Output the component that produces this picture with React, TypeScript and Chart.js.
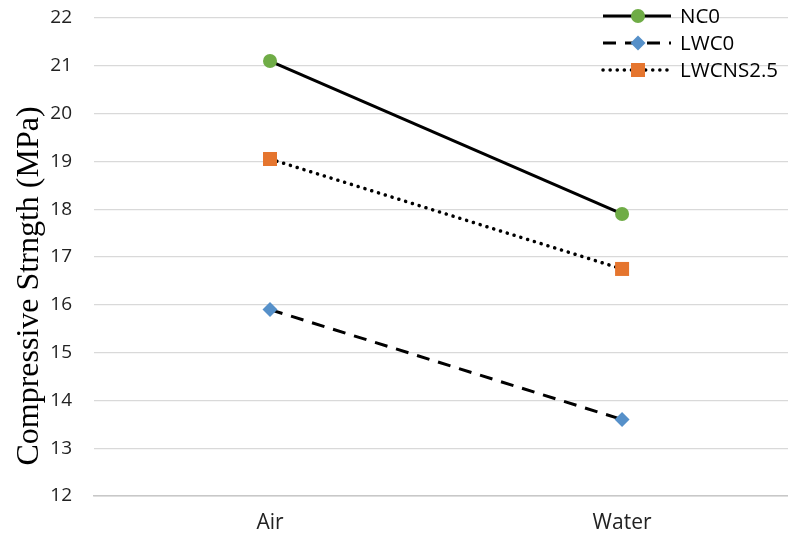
import React, { useEffect, useRef } from "react";
import { Chart, registerables } from "chart.js";

Chart.register(...registerables);

const categories = ["Air", "Water"];
const nc0 = [21.1, 17.9];
const lwc0 = [15.9, 13.6];
const lwcns25 = [19.05, 16.75];
const yTicks = [12, 13, 14, 15, 16, 17, 18, 19, 20, 21, 22];
const yTitle = "Compressive Strngth (MPa)";

const GREEN = "#6FAC46";
const BLUE = "#5690C9";
const ORANGE = "#E5752E";

type LegendRow = {
  label: string;
  color: string;
  dash: number[];
  cap: CanvasLineCap;
  width: number;
  marker: "circle" | "diamond" | "square";
};

const legendRows: LegendRow[] = [
  { label: "NC0", color: GREEN, dash: [], cap: "butt", width: 3, marker: "circle" },
  { label: "LWC0", color: BLUE, dash: [13, 9], cap: "butt", width: 3, marker: "diamond" },
  { label: "LWCNS2.5", color: ORANGE, dash: [0.1, 7], cap: "round", width: 3.5, marker: "square" },
];

function drawMarker(ctx: CanvasRenderingContext2D, kind: string, x: number, y: number, color: string) {
  ctx.save();
  ctx.fillStyle = color;
  ctx.beginPath();
  if (kind === "circle") {
    ctx.arc(x, y, 7, 0, Math.PI * 2);
  } else if (kind === "diamond") {
    ctx.moveTo(x, y - 7.5);
    ctx.lineTo(x + 7.5, y);
    ctx.lineTo(x, y + 7.5);
    ctx.lineTo(x - 7.5, y);
    ctx.closePath();
  } else {
    ctx.rect(x - 7, y - 7, 14, 14);
  }
  ctx.fill();
  ctx.restore();
}

const decorations = {
  id: "decorations",
  afterDraw(chart: Chart) {
    const ctx = chart.ctx;
    // rotated axis title
    ctx.save();
    ctx.translate(30, 286);
    ctx.rotate(-Math.PI / 2);
    ctx.font = '32px "Liberation Serif"';
    ctx.fillStyle = "#000";
    ctx.textAlign = "center";
    ctx.textBaseline = "middle";
    ctx.fillText(yTitle, 0, 0);
    ctx.restore();

    // legend
    const rowY = [16, 43, 70];
    legendRows.forEach((row, i) => {
      const y = rowY[i];
      ctx.save();
      ctx.strokeStyle = "#000";
      ctx.lineWidth = row.width;
      ctx.lineCap = row.cap;
      ctx.setLineDash(row.dash);
      ctx.beginPath();
      ctx.moveTo(603, y);
      ctx.lineTo(671, y);
      ctx.stroke();
      ctx.restore();
      drawMarker(ctx, row.marker, 638, y, row.color);
      ctx.save();
      ctx.font = '20.5px "Open Sans"';
      ctx.fillStyle = "#000";
      ctx.textAlign = "left";
      ctx.textBaseline = "middle";
      ctx.fillText(row.label, 680, y + 1);
      ctx.restore();
    });
  },
};

export default function App() {
  const ref = useRef<HTMLCanvasElement>(null);

  useEffect(() => {
    if (!ref.current) return;
    const chart = new Chart(ref.current, {
      type: "line",
      data: {
        labels: categories,
        datasets: [
          {
            label: "NC0",
            data: nc0,
            borderColor: "#000",
            borderWidth: 3,
            pointStyle: "circle",
            pointRadius: 7,
            pointBackgroundColor: GREEN,
            pointBorderColor: GREEN,
            pointBorderWidth: 0,
          },
          {
            label: "LWC0",
            data: lwc0,
            borderColor: "#000",
            borderWidth: 3,
            borderDash: [13, 9],
            pointStyle: "rectRot",
            pointRadius: 7.5,
            pointBackgroundColor: BLUE,
            pointBorderColor: BLUE,
            pointBorderWidth: 0,
          },
          {
            label: "LWCNS2.5",
            data: lwcns25,
            borderColor: "#000",
            borderWidth: 3.5,
            borderDash: [0.1, 7],
            borderCapStyle: "round",
            pointStyle: "rect",
            pointRadius: 9.9,
            pointBackgroundColor: ORANGE,
            pointBorderColor: ORANGE,
            pointBorderWidth: 0,
          },
        ],
      },
      options: {
        responsive: false,
        animation: false,
        layout: { padding: { left: 0, right: 2, top: 18, bottom: 0 } },
        plugins: { legend: { display: false }, tooltip: { enabled: false } },
        scales: {
          x: {
            type: "category",
            offset: true,
            grid: { display: false, drawTicks: false },
            border: { display: true, color: "#C8C8C8", width: 1.5 },
            ticks: { color: "#222", font: { family: "Open Sans", size: 21 }, padding: 14 },
            afterFit: (s: any) => {
              s.height = 45;
            },
          },
          y: {
            min: 12,
            max: 22,
            afterBuildTicks: (s: any) => {
              s.ticks = yTicks.map((v) => ({ value: v }));
            },
            grid: { color: "#D9D9D9", lineWidth: 1.3, drawTicks: false },
            border: { display: false },
            ticks: { color: "#222", font: { family: "Open Sans", size: 19 }, padding: 22 },
            afterFit: (s: any) => {
              s.width = 94;
              s.paddingTop = 0;
              s.paddingBottom = 0;
            },
          },
        },
      },
      plugins: [decorations],
    });
    return () => chart.destroy();
  }, []);

  return (
    <div style={{ position: "fixed", left: 0, top: 0, width: 788, height: 541, overflow: "hidden", background: "#fff" }}>
      <canvas ref={ref} width={808} height={541} style={{ display: "block" }} />
    </div>
  );
}
